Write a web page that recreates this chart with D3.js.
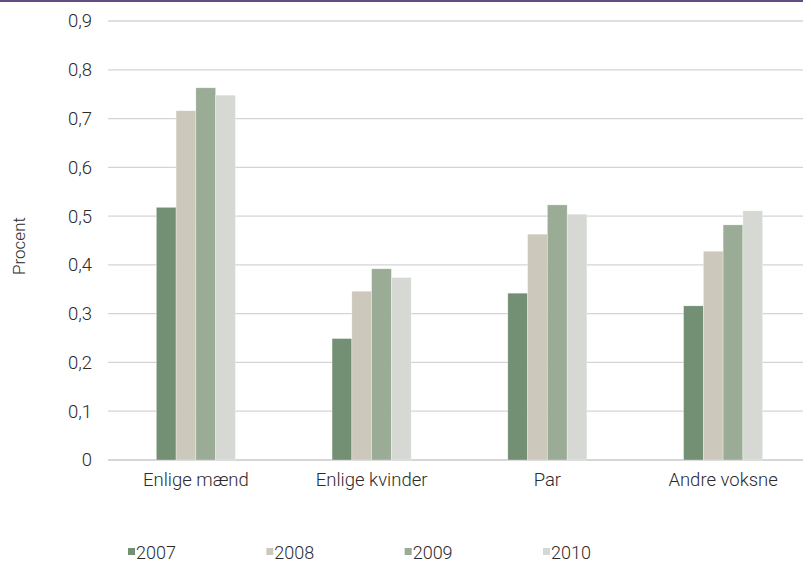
<!DOCTYPE html>
<html>
<head>
<meta charset="utf-8">
<script src="https://cdn.jsdelivr.net/npm/d3@7"></script>
<style>
  body { margin: 0; background: #fff; }
  svg { display: block; font-family: "Roboto", "Liberation Sans", sans-serif; }
</style>
</head>
<body>
<svg id="chart" width="803" height="562"></svg>
<script>
// Share of households, by household type and year (percent)
const categories = ["Enlige mænd", "Enlige kvinder", "Par", "Andre voksne"];
const years = ["2007", "2008", "2009", "2010"];
const values2007 = [0.518, 0.249, 0.342, 0.316];
const values2008 = [0.716, 0.346, 0.463, 0.428];
const values2009 = [0.763, 0.392, 0.523, 0.482];
const values2010 = [0.748, 0.374, 0.504, 0.511];
const yTicks = [0, 0.1, 0.2, 0.3, 0.4, 0.5, 0.6, 0.7, 0.8, 0.9];
const colors = ["#738f74", "#ccc8bc", "#9aab96", "#d6d9d3"];

const series = [values2007, values2008, values2009, values2010];
const textColor = "#2b2b2b";

const svg = d3.select("#chart");

// top accent rule
svg.append("rect").attr("x", 0).attr("y", 0).attr("width", 803).attr("height", 2).attr("fill", "#644d84");

const y = d3.scaleLinear().domain([0, 0.9]).range([460, 21]);
const x = d3.scaleBand().domain(categories).range([108, 811]).paddingInner(0.55).paddingOuter(0.275);
const xs = d3.scaleBand().domain(years).range([0, x.bandwidth()]);

// gridlines
svg.append("g").selectAll("line").data(yTicks).join("line")
  .attr("x1", 108).attr("x2", 803)
  .attr("y1", d => y(d)).attr("y2", d => y(d))
  .attr("stroke", d => d === 0 ? "#c8c8c8" : "#d4d4d4")
  .attr("stroke-width", 1.3);

// y axis labels
const yAxis = d3.axisLeft(y).tickValues(yTicks).tickSize(0).tickPadding(0)
  .tickFormat(d => d === 0 ? "0" : d3.format(".1f")(d).replace(".", ","));
const ga = svg.append("g").attr("transform", "translate(92,0)").call(yAxis);
ga.select(".domain").remove();
ga.selectAll("text").attr("font-size", 18.5).attr("font-weight", 300).attr("fill", textColor).attr("font-family", "Roboto, sans-serif");

// bars
const groups = svg.append("g").selectAll("g").data(categories).join("g")
  .attr("transform", d => `translate(${x(d)},0)`);
groups.selectAll("rect")
  .data((c, i) => years.map((yr, j) => ({ yr, v: series[j][i], j })))
  .join("rect")
  .attr("x", d => xs(d.yr))
  .attr("y", d => y(d.v))
  .attr("width", xs.bandwidth())
  .attr("height", d => y(0) - y(d.v))
  .attr("fill", d => colors[d.j])
  .attr("stroke", "#ffffff")
  .attr("stroke-opacity", 0.5)
  .attr("stroke-width", 0.6);

// category labels
const xAxis = d3.axisBottom(x).tickSize(0).tickPadding(0);
const gx = svg.append("g").attr("transform", "translate(0,472.5)").call(xAxis);
gx.select(".domain").remove();
gx.selectAll("text").attr("font-size", 18.5).attr("font-weight", 300).attr("fill", textColor).attr("font-family", "Roboto, sans-serif");

// y axis title
svg.append("text")
  .attr("transform", "translate(25,246) rotate(-90)")
  .attr("text-anchor", "middle")
  .attr("font-size", 17)
  .attr("font-weight", 300)
  .attr("fill", textColor)
  .text("Procent");

// legend
const legendX = d3.scalePoint().domain(years).range([128, 543]);
const lg = svg.append("g").selectAll("g").data(years).join("g")
  .attr("transform", d => `translate(${legendX(d)},559)`);
lg.append("rect").attr("x", 0).attr("y", -11).attr("width", 7).attr("height", 7)
  .attr("fill", (d, i) => colors[i]);
lg.append("text").attr("x", 8).attr("y", 0).attr("font-size", 18).attr("font-weight", 300)
  .attr("fill", textColor).text(d => d);
</script>
</body>
</html>
